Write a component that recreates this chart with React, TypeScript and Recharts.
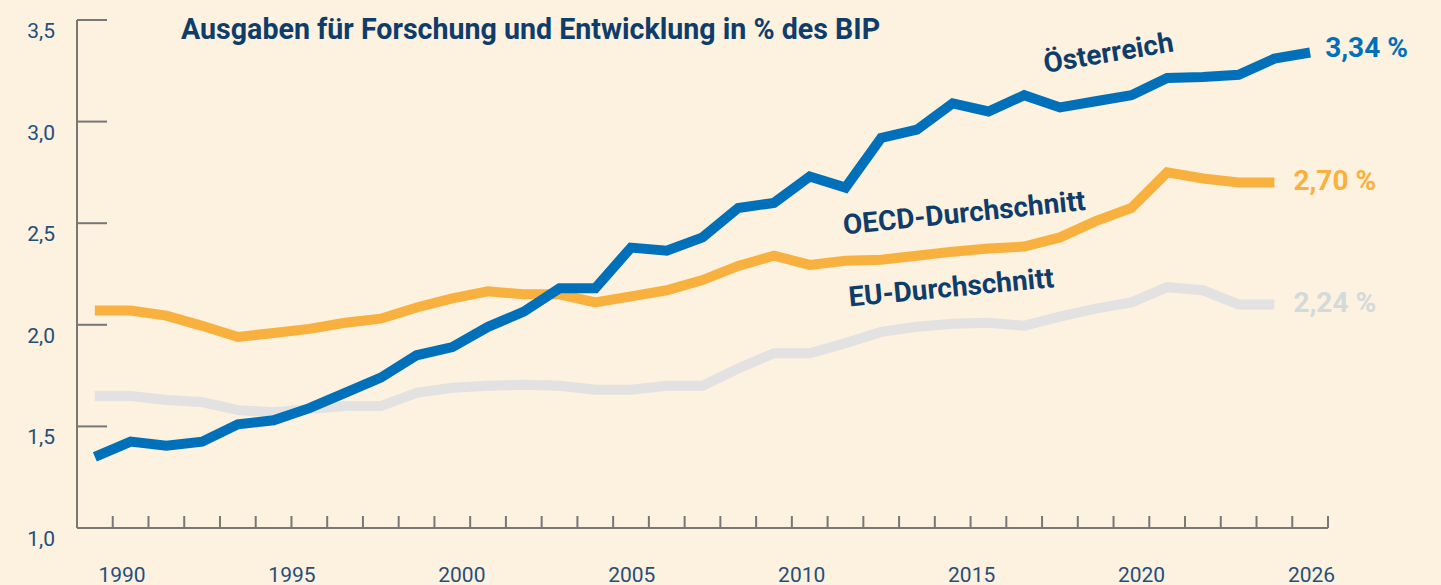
import React from 'react';
import { LineChart, Line, XAxis, YAxis, ReferenceDot } from 'recharts';

// F&E-Quote in % des BIP, 1990-2024
const years = [
  1990, 1991, 1992, 1993, 1994, 1995, 1996, 1997, 1998, 1999,
  2000, 2001, 2002, 2003, 2004, 2005, 2006, 2007, 2008, 2009,
  2010, 2011, 2012, 2013, 2014, 2015, 2016, 2017, 2018, 2019,
  2020, 2021, 2022, 2023, 2024,
];

const austria = [
  1.35, 1.425, 1.405, 1.425, 1.51, 1.53, 1.59, 1.665, 1.74, 1.85,
  1.89, 1.99, 2.065, 2.18, 2.18, 2.38, 2.365, 2.43, 2.575, 2.6,
  2.73, 2.675, 2.92, 2.96, 3.09, 3.05, 3.13, 3.07, 3.1, 3.13,
  3.215, 3.22, 3.23, 3.31, 3.34,
];

const oecd = [
  2.07, 2.07, 2.045, 1.995, 1.94, 1.96, 1.98, 2.01, 2.03, 2.085,
  2.13, 2.165, 2.15, 2.15, 2.11, 2.14, 2.17, 2.22, 2.29, 2.34,
  2.295, 2.315, 2.32, 2.34, 2.36, 2.375, 2.385, 2.43, 2.51, 2.575,
  2.75, 2.72, 2.7, 2.7,
];

const eu = [
  1.65, 1.65, 1.63, 1.62, 1.58, 1.57, 1.585, 1.6, 1.6, 1.665,
  1.69, 1.7, 1.705, 1.7, 1.68, 1.68, 1.7, 1.7, 1.785, 1.86,
  1.86, 1.91, 1.965, 1.99, 2.005, 2.01, 1.995, 2.04, 2.08, 2.11,
  2.185, 2.17, 2.1, 2.1,
];

const yTicks = [1, 1.5, 2, 2.5, 3, 3.5];
const yearLabels = ['1990', '1995', '2000', '2005', '2010', '2015', '2020', '2026'];
const endLabels = ['3,34 %', '2,70 %', '2,24 %'];
const seriesNames = ['Österreich', 'OECD-Durchschnitt', 'EU-Durchschnitt'];
const TITLE = 'Ausgaben für Forschung und Entwicklung in % des BIP';

const BG = '#fdf1df';
const NAVY = '#0f3d6b';
const TICK_TEXT = '#234f7b';
const AXIS = '#777777';
const BLUE = '#0070ba';
const ORANGE = '#f8b13e';
const GREY = '#e1e2e1';
const GREY_TEXT = '#d2dada';
const FONT = 'Roboto, "Noto Sans", sans-serif';

const data = years.map((year, i) => ({
  year,
  austria: austria[i] ?? null,
  oecd: oecd[i] ?? null,
  eu: eu[i] ?? null,
}));

// year ticks sit on the boundaries between the yearly bands
const yearTicks = years.map((y) => y + 0.5);
// the printed year labels are spread evenly, a bit off the actual bands
const LABEL_START = 1990.76;
const LABEL_STEP = 4.754;
const labelTicks = yearLabels.map((_, i) => LABEL_START + i * LABEL_STEP);

// series name annotations, anchored in data units (middle of the baseline)
const nameAnchors = [
  { year: 2018.4, value: 3.293, angle: -9.5 },
  { year: 2014.35, value: 2.505, angle: -5.8 },
  { year: 2013.98, value: 2.138, angle: -5.4 },
];

const Y_TICK_GAP = 22;
const Y_TICK_LEN = 30;
const X_TICK_LEN = 12;

// inward tick marks on the x axis, no text
const XTick = (props: any) => {
  const { x, y } = props;
  return <line x1={x} x2={x} y1={y} y2={y - X_TICK_LEN} stroke={AXIS} strokeWidth={2} />;
};

const YTick = (props: any) => {
  const { x, y, payload } = props;
  const axisX = x + Y_TICK_GAP;
  return (
    <g>
      <line x1={axisX} x2={axisX + Y_TICK_LEN} y1={y} y2={y} stroke={AXIS} strokeWidth={2} />
      <text
        x={x}
        y={y + 11}
        textAnchor="end"
        dominantBaseline="central"
        fill={TICK_TEXT}
        fontSize={21}
        fontFamily={FONT}
      >
        {String(payload.value.toFixed(1)).replace('.', ',')}
      </text>
    </g>
  );
};

const lastIndex = (arr: number[]) => arr.length - 1;

const endLabel = (text: string, color: string, idx: number, dx: number, dy: number) => (props: any) => {
  if (props.index !== idx || props.x == null || props.y == null) return null;
  return (
    <text
      x={props.x + dx}
      y={props.y + dy}
      dominantBaseline="central"
      fill={color}
      fontSize={28}
      fontWeight={700}
      fontFamily={FONT}
    >
      {text}
    </text>
  );
};

const nameLabel = (text: string, angle: number) => (props: any) => {
  const { x, y } = props.viewBox;
  return (
    <text
      x={x}
      y={y}
      transform={`rotate(${angle} ${x} ${y})`}
      textAnchor="middle"
      fill={NAVY}
      fontSize={28}
      fontWeight={700}
      fontFamily={FONT}
    >
      {text}
    </text>
  );
};

export default function App() {
  return (
    <div style={{ position: 'absolute', left: 0, top: 0, width: 1441, height: 585, background: BG, overflow: 'hidden' }}>
      <div
        style={{
          position: 'absolute',
          left: 181,
          top: 15,
          fontFamily: FONT,
          fontWeight: 700,
          fontSize: 28.6,
          lineHeight: '28px',
          color: NAVY,
          whiteSpace: 'nowrap',
        }}
      >
        {TITLE}
      </div>
      <LineChart width={1441} height={585} data={data} margin={{ top: 20, right: 113, bottom: 16, left: 17 }}>
        <XAxis
          dataKey="year"
          type="number"
          domain={[1989.5, 2024.5]}
          ticks={yearTicks}
          interval={0}
          tick={<XTick />}
          tickSize={0}
          tickMargin={0}
          tickLine={false}
          axisLine={{ stroke: AXIS, strokeWidth: 2 }}
          height={1}
        />
        <XAxis
          xAxisId="lbl"
          dataKey="year"
          type="number"
          domain={[1989.5, 2024.5]}
          ticks={labelTicks}
          interval={0}
          tickFormatter={(_v: number, i: number) => yearLabels[i] ?? ''}
          axisLine={false}
          tickLine={false}
          tickSize={0}
          tickMargin={38}
          height={40}
          tick={{ fill: TICK_TEXT, fontSize: 21, fontFamily: FONT }}
        />
        <YAxis
          type="number"
          domain={[1, 3.5]}
          ticks={yTicks}
          interval={0}
          width={60}
          tickSize={0}
          tickMargin={Y_TICK_GAP}
          tickLine={false}
          axisLine={{ stroke: AXIS, strokeWidth: 2 }}
          tick={<YTick />}
        />
        <Line
          dataKey="eu"
          stroke={GREY}
          strokeWidth={10}
          dot={false}
          activeDot={false}
          isAnimationActive={false}
          label={endLabel(endLabels[2], GREY_TEXT, lastIndex(eu), 19, -2)}
        />
        <Line
          dataKey="oecd"
          stroke={ORANGE}
          strokeWidth={10}
          dot={false}
          activeDot={false}
          isAnimationActive={false}
          label={endLabel(endLabels[1], ORANGE, lastIndex(oecd), 19, -2)}
        />
        <Line
          dataKey="austria"
          stroke={BLUE}
          strokeWidth={10}
          dot={false}
          activeDot={false}
          isAnimationActive={false}
          label={endLabel(endLabels[0], BLUE, lastIndex(austria), 15, -5)}
        />
        {nameAnchors.map((a, i) => (
          <ReferenceDot
            key={seriesNames[i]}
            x={a.year}
            y={a.value}
            r={0}
            fill="none"
            stroke="none"
            ifOverflow="visible"
            label={nameLabel(seriesNames[i], a.angle)}
          />
        ))}
      </LineChart>
    </div>
  );
}
